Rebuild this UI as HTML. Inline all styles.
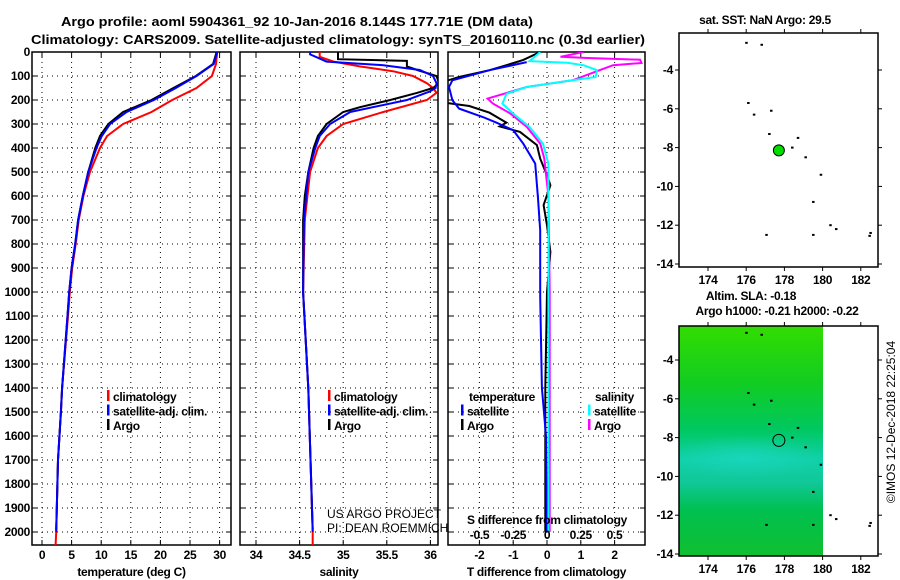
<!DOCTYPE html>
<html><head><meta charset="utf-8"><style>
html,body{margin:0;padding:0;background:#fff;}
svg{display:block;font-family:"Liberation Sans",sans-serif;}
.t{font-weight:bold;font-size:13px;fill:#000;}
.tk{font-weight:bold;font-size:12px;fill:#000;letter-spacing:-0.3px;}
</style></head><body>
<svg id="c" width="900" height="580" viewBox="0 0 900 580">
<text class="t" x="61" y="26" textLength="472" lengthAdjust="spacingAndGlyphs">Argo profile: aoml 5904361_92 10-Jan-2016 8.144S 177.71E (DM data)</text>
<text class="t" x="31" y="44" textLength="614" lengthAdjust="spacingAndGlyphs">Climatology: CARS2009. Satellite-adjusted climatology: synTS_20160110.nc (0.3d earlier)</text>
<g id="g"></g>
</svg>
<script>
// ---- data ----
const depthTicks=[0,100,200,300,400,500,600,700,800,900,1000,1100,1200,1300,1400,1500,1600,1700,1800,1900,2000];
const tempTicks=[0,5,10,15,20,25,30];
const salTicks=[34,34.5,35,35.5,36];
const tdiffTicks=[-2,-1,0,1,2];
const sdiffTicks=[-0.5,-0.25,0,0.25,0.5];
// temperature profiles [depth, value]
const tempClimDepth=[0,50,100,150,200,250,300,350,400,500,600,700,800,900,1000,1100,1400,1500,1700,1900,2000,2055];
const tempClim=[29.6,29.4,28.7,26.1,22.0,18.5,13.7,11.0,9.8,8.1,7.0,6.2,5.7,5.1,4.7,4.4,3.4,3.2,2.7,2.5,2.4,2.3];
const tempSatDepth=[0,50,100,150,200,250,300,350,400,500,600,700,800,900,1000,1100,1400,1500,1700,1900,2000];
const tempSat=[29.6,29.0,26.1,22.6,18.9,14.3,11.5,10.1,9.2,7.8,6.9,6.1,5.6,5.0,4.6,4.3,3.4,3.2,2.7,2.5,2.4];
const tempArgoDepth=[0,50,100,150,200,250,300,350,400,500,600,700,800,900,1000,1100,1400,1500,1700,1900,1990];
const tempArgo=[29.5,28.9,26.0,22.2,18.5,13.7,11.2,9.8,9.0,7.8,6.9,6.1,5.6,5.0,4.6,4.3,3.4,3.2,2.7,2.5,2.4];
// salinity profiles
const salClimDepth=[0,20,40,60,80,100,130,150,170,200,250,300,350,400,500,700,1000,1400,2000,2055];
const salClim=[34.73,34.73,34.89,35.19,35.57,35.80,35.96,36.03,36.07,35.96,35.46,35.00,34.81,34.71,34.62,34.56,34.54,34.60,34.65,34.65];
const salSatDepth=[0,10,40,55,75,100,130,150,165,200,250,300,350,400,500,700,1000,1400,2000];
const salSat=[34.62,34.62,34.81,35.46,35.88,36.03,36.07,36.06,35.99,35.73,35.08,34.85,34.73,34.68,34.60,34.55,34.54,34.60,34.65];
const salArgoDepth=[0,30,37,60,75,100,130,150,170,200,230,250,300,350,400,500,600,700,1000,1400,1990];
const salArgo=[34.94,34.94,35.73,35.73,35.85,36.07,36.10,36.03,35.85,35.54,35.19,35.00,34.81,34.71,34.66,34.60,34.56,34.54,34.54,34.60,34.65];
// difference profiles
const dTArgoDepth=[0,33,55,76,104,130,208,225,253,294,310,333,388,444,514,555,638,722,833,1000,1400,1700,2000];
const dTArgo=[-0.2,-0.7,-1.2,-1.7,-2.6,-3.2,-3.2,-2.3,-1.7,-1.2,-1.4,-0.8,-0.3,-0.2,0.0,0.1,-0.1,0.0,0.1,0.0,-0.05,-0.05,-0.05];
const dTSatDepth=[42,76,118,146,201,236,271,294,326,382,465,604,743,1021,1400,1600,2000];
const dTSat=[-0.6,-1.7,-2.8,-2.9,-2.8,-2.6,-1.9,-1.5,-1.0,-0.7,-0.35,-0.27,-0.2,-0.2,-0.15,-0.03,0.0];
const dSSatDepth=[0,38,45,55,76,104,118,146,174,215,257,312,382,465,743,1200,2000];
const dSSat=[-0.05,-0.13,0.15,0.27,0.37,0.36,0.19,-0.15,-0.30,-0.33,-0.25,-0.13,-0.03,0.01,0.01,0.01,0.01];
const dSArgoDepth=[0,20,25,32,46,55,76,118,146,194,215,257,312,382,444,600,1000,1600,2000];
const dSArgo=[0.27,0.10,0.30,0.69,0.70,0.49,0.39,0.19,-0.15,-0.44,-0.40,-0.27,-0.15,-0.05,-0.02,0.01,0.02,0.02,0.02];
// maps
const mapLonTicks=[174,176,178,180,182];
const mapLatTicks=[-4,-6,-8,-10,-12,-14];
const islandLon=[176,176.8,176.1,176.4,177.3,177.2,178.7,178.4,179.1,179.9,179.5,177.05,179.5,180.4,180.7,182.5,182.45];
const islandLat=[-2.6,-2.7,-5.7,-6.3,-6.1,-7.3,-7.5,-8.0,-8.5,-9.4,-10.8,-12.5,-12.5,-12.0,-12.2,-12.4,-12.55];
const floatLon=177.71, floatLat=-8.144;

const NS="http://www.w3.org/2000/svg";
const G=document.getElementById('g');
function mk(tag,attrs,parent){const e=document.createElementNS(NS,tag);for(const k in attrs)e.setAttribute(k,attrs[k]);(parent||G).appendChild(e);return e;}
function txt(x,y,s,cls,anchor,parent){const e=mk('text',{x:x,y:y,class:cls||'tk','text-anchor':anchor||'middle'},parent);e.textContent=s;return e;}

const yTop=52,yBot=545;
const yD=d=>yTop+d*0.24;
const panels=[
 {x0:32,x1:231,name:'temperature-panel',sx:v=>42+v*5.92,ticks:tempTicks,label:'temperature (deg C)'},
 {x0:240,x1:438,name:'salinity-panel',sx:v=>256+(v-34)*87.2,ticks:salTicks,label:'salinity'},
 {x0:448,x1:645,name:'difference-panel',sx:v=>547+v*33.8,ticks:tdiffTicks,label:'T difference from climatology'}
];
const sxS=v=>547+v*135;
panels.forEach((p,i)=>{
  const gp=mk('g',{});
  
  
  const cp=mk('clipPath',{id:'cp'+i},gp);
  mk('rect',{x:p.x0,y:yTop,width:p.x1-p.x0,height:yBot-yTop},cp);
  depthTicks.forEach(d=>{
    const gl=mk('line',{x1:p.x0,x2:p.x1,y1:yD(d),y2:yD(d),stroke:'#000','stroke-width':1,'stroke-dasharray':'1,4'},gp);
    
    
    mk('line',{x1:p.x0,x2:p.x0+5,y1:yD(d),y2:yD(d),stroke:'#000'},gp);
    mk('line',{x1:p.x1-5,x2:p.x1,y1:yD(d),y2:yD(d),stroke:'#000'},gp);
  });
  p.ticks.forEach(v=>{
    const x=p.sx(v);
    mk('line',{x1:x,x2:x,y1:yTop,y2:yBot,stroke:'#000','stroke-dasharray':'1,4'},gp);
    mk('line',{x1:x,x2:x,y1:yBot,y2:yBot-5,stroke:'#000'},gp);
    mk('line',{x1:x,x2:x,y1:yTop,y2:yTop+5,stroke:'#000'},gp);
    const t=txt(x,559,String(v),'tk','middle',gp);
    
    
  });
  mk('rect',{x:p.x0,y:yTop,width:p.x1-p.x0,height:yBot-yTop,fill:'none',stroke:'#000','stroke-width':1.5},gp);
  const xl=txt((p.x0+p.x1)/2,576,p.label,'tk','middle',gp);
  
  
});
depthTicks.forEach(d=>{
  const t=txt(30,yD(d)+4,String(d),'tk','end');
  
  
});

function line(ds,vs,sx,color,clip,name){
  const pts=ds.map((d,i)=>sx(vs[i]).toFixed(1)+','+yD(d).toFixed(1)).join(' ');
  const e=mk('polyline',{points:pts,fill:'none',stroke:color,'stroke-width':2,'clip-path':'url(#cp'+clip+')'});
  
  
}
const sT=panels[0].sx,sS=panels[1].sx,sD=panels[2].sx;
line(tempClimDepth,tempClim,sT,'#ff0000',0,'temperature-climatology-line');
line(tempArgoDepth,tempArgo,sT,'#000000',0,'temperature-argo-line');
line(tempSatDepth,tempSat,sT,'#0000ff',0,'temperature-satellite-line');
line(salClimDepth,salClim,sS,'#ff0000',1,'salinity-climatology-line');
line(salArgoDepth,salArgo,sS,'#000000',1,'salinity-argo-line');
line(salSatDepth,salSat,sS,'#0000ff',1,'salinity-satellite-line');
line(dTArgoDepth,dTArgo,sD,'#000000',2,'t-diff-argo-line');
line(dTSatDepth,dTSat,sD,'#0000ff',2,'t-diff-satellite-line');
line(dSArgoDepth,dSArgo,sxS,'#ff00ff',2,'s-diff-argo-line');
line(dSSatDepth,dSSat,sxS,'#00ffff',2,'s-diff-satellite-line');

// legends
function legendItem(x,y,color,label){
  const g=mk('g',{});
  
  
  mk('rect',{x:x,y:y-11,width:2.5,height:11,fill:color},g);
  txt(x+6,y,label,'tk','start',g);
}
[[107,'climatology','#ff0000'],[107,'satellite-adj. clim.','#0000ff'],[107,'Argo','#000000']].forEach((a,i)=>legendItem(a[0],401+i*14.5,a[2],a[1]));
[[328,'climatology','#ff0000'],[328,'satellite-adj. clim.','#0000ff'],[328,'Argo','#000000']].forEach((a,i)=>legendItem(a[0],401+i*14.5,a[2],a[1]));
const lt=txt(469,401,'temperature','tk','start');
const ls=txt(595,401,'salinity','tk','start');
legendItem(461,415.5,'#0000ff','satellite');legendItem(461,430,'#000000','Argo');
legendItem(588,415.5,'#00ffff','satellite');legendItem(588,430,'#ff00ff','Argo');
const us=mk('text',{x:327,y:518,'font-size':'12','text-anchor':'start'});us.textContent='US ARGO PROJECT';
const pi=mk('text',{x:327,y:532,'font-size':'12','text-anchor':'start'});pi.textContent='PI: DEAN ROEMMICH';
const sdt=txt(547,524,'S difference from climatology');
sdiffTicks.forEach(v=>{const t=txt(sxS(v),539,String(v),'tk','middle');});

// maps
const mx0=679,mx1=878;
const mLon=l=>708+(l-174)*19.1;
function drawMap(yT,yB,lat4y,name,filled){
  const gm=mk('g',{});
  
  
  const mLat=l=>lat4y+(-4-l)*19.4;
  if(filled){
    const defs=mk('defs',{},gm);
    const lg=mk('linearGradient',{id:'sla',x1:0,y1:0,x2:0,y2:1},defs);
    [[0,'#33dd00'],[0.25,'#11cc22'],[0.45,'#00c860'],[0.58,'#10d0a8'],[0.68,'#10c898'],[0.8,'#00c050'],[1,'#10c030']].forEach(s=>mk('stop',{offset:s[0],'stop-color':s[1]},lg));
    const rg=mk('radialGradient',{id:'blob'},defs);
    mk('stop',{offset:0,'stop-color':'#20d8c8','stop-opacity':0.6},rg);
    mk('stop',{offset:1,'stop-color':'#20d8c8','stop-opacity':0},rg);
    const cpm=mk('clipPath',{id:'cpm'},defs);
    mk('rect',{x:mx0,y:yT,width:823-mx0,height:yB-yT},cpm);
    mk('rect',{x:mx0,y:yT,width:823-mx0,height:yB-yT,fill:'url(#sla)'},gm);
    mk('ellipse',{cx:745,cy:mLat(-9),rx:80,ry:22,fill:'url(#blob)','clip-path':'url(#cpm)'},gm);
  }
  islandLon.forEach((lo,i)=>{
    const d=mk('rect',{x:mLon(lo)-1,y:mLat(islandLat[i])-1,width:2.5,height:2,fill:'#000'},gm);
    
    
  });
  const fm=mk('circle',{cx:mLon(floatLon),cy:mLat(floatLat),r:filled?6:5.5,fill:filled?'none':'#00dd00',stroke:'#000','stroke-width':1},gm);
  
  
  mk('rect',{x:mx0,y:yT,width:mx1-mx0,height:yB-yT,fill:'none',stroke:'#000','stroke-width':1.5},gm);
  mapLonTicks.forEach(l=>{const x=mLon(l);mk('line',{x1:x,x2:x,y1:yB,y2:yB+4,stroke:'#000'},gm);mk('line',{x1:x,x2:x,y1:yT,y2:yT-4,stroke:'#000'},gm);
    const t=txt(x,yB+17,String(l),'tk','middle',gm);});
  mapLatTicks.forEach(l=>{const y=mLat(l);mk('line',{x1:mx0,x2:mx0-4,y1:y,y2:y,stroke:'#000'},gm);mk('line',{x1:mx1,x2:mx1+4,y1:y,y2:y,stroke:'#000'},gm);
    const t=txt(mx0-6,y+4,String(l),'tk','end',gm);});
  return gm;
}
drawMap(33,267,70,'sst-map',false);
drawMap(326,556,360,'sla-map',true);
const t1=txt(765,24,'sat. SST: NaN Argo: 29.5');
const t2=txt(751,300,'Altim. SLA: -0.18');
const t3=txt(777,315,'Argo h1000: -0.21 h2000: -0.22');
const cr=mk('text',{x:0,y:0,'font-size':'12','text-anchor':'middle',transform:'translate(895,422) rotate(-90)'});
cr.textContent='©IMOS 12-Dec-2018 22:25:04';


</script>
</body></html>
